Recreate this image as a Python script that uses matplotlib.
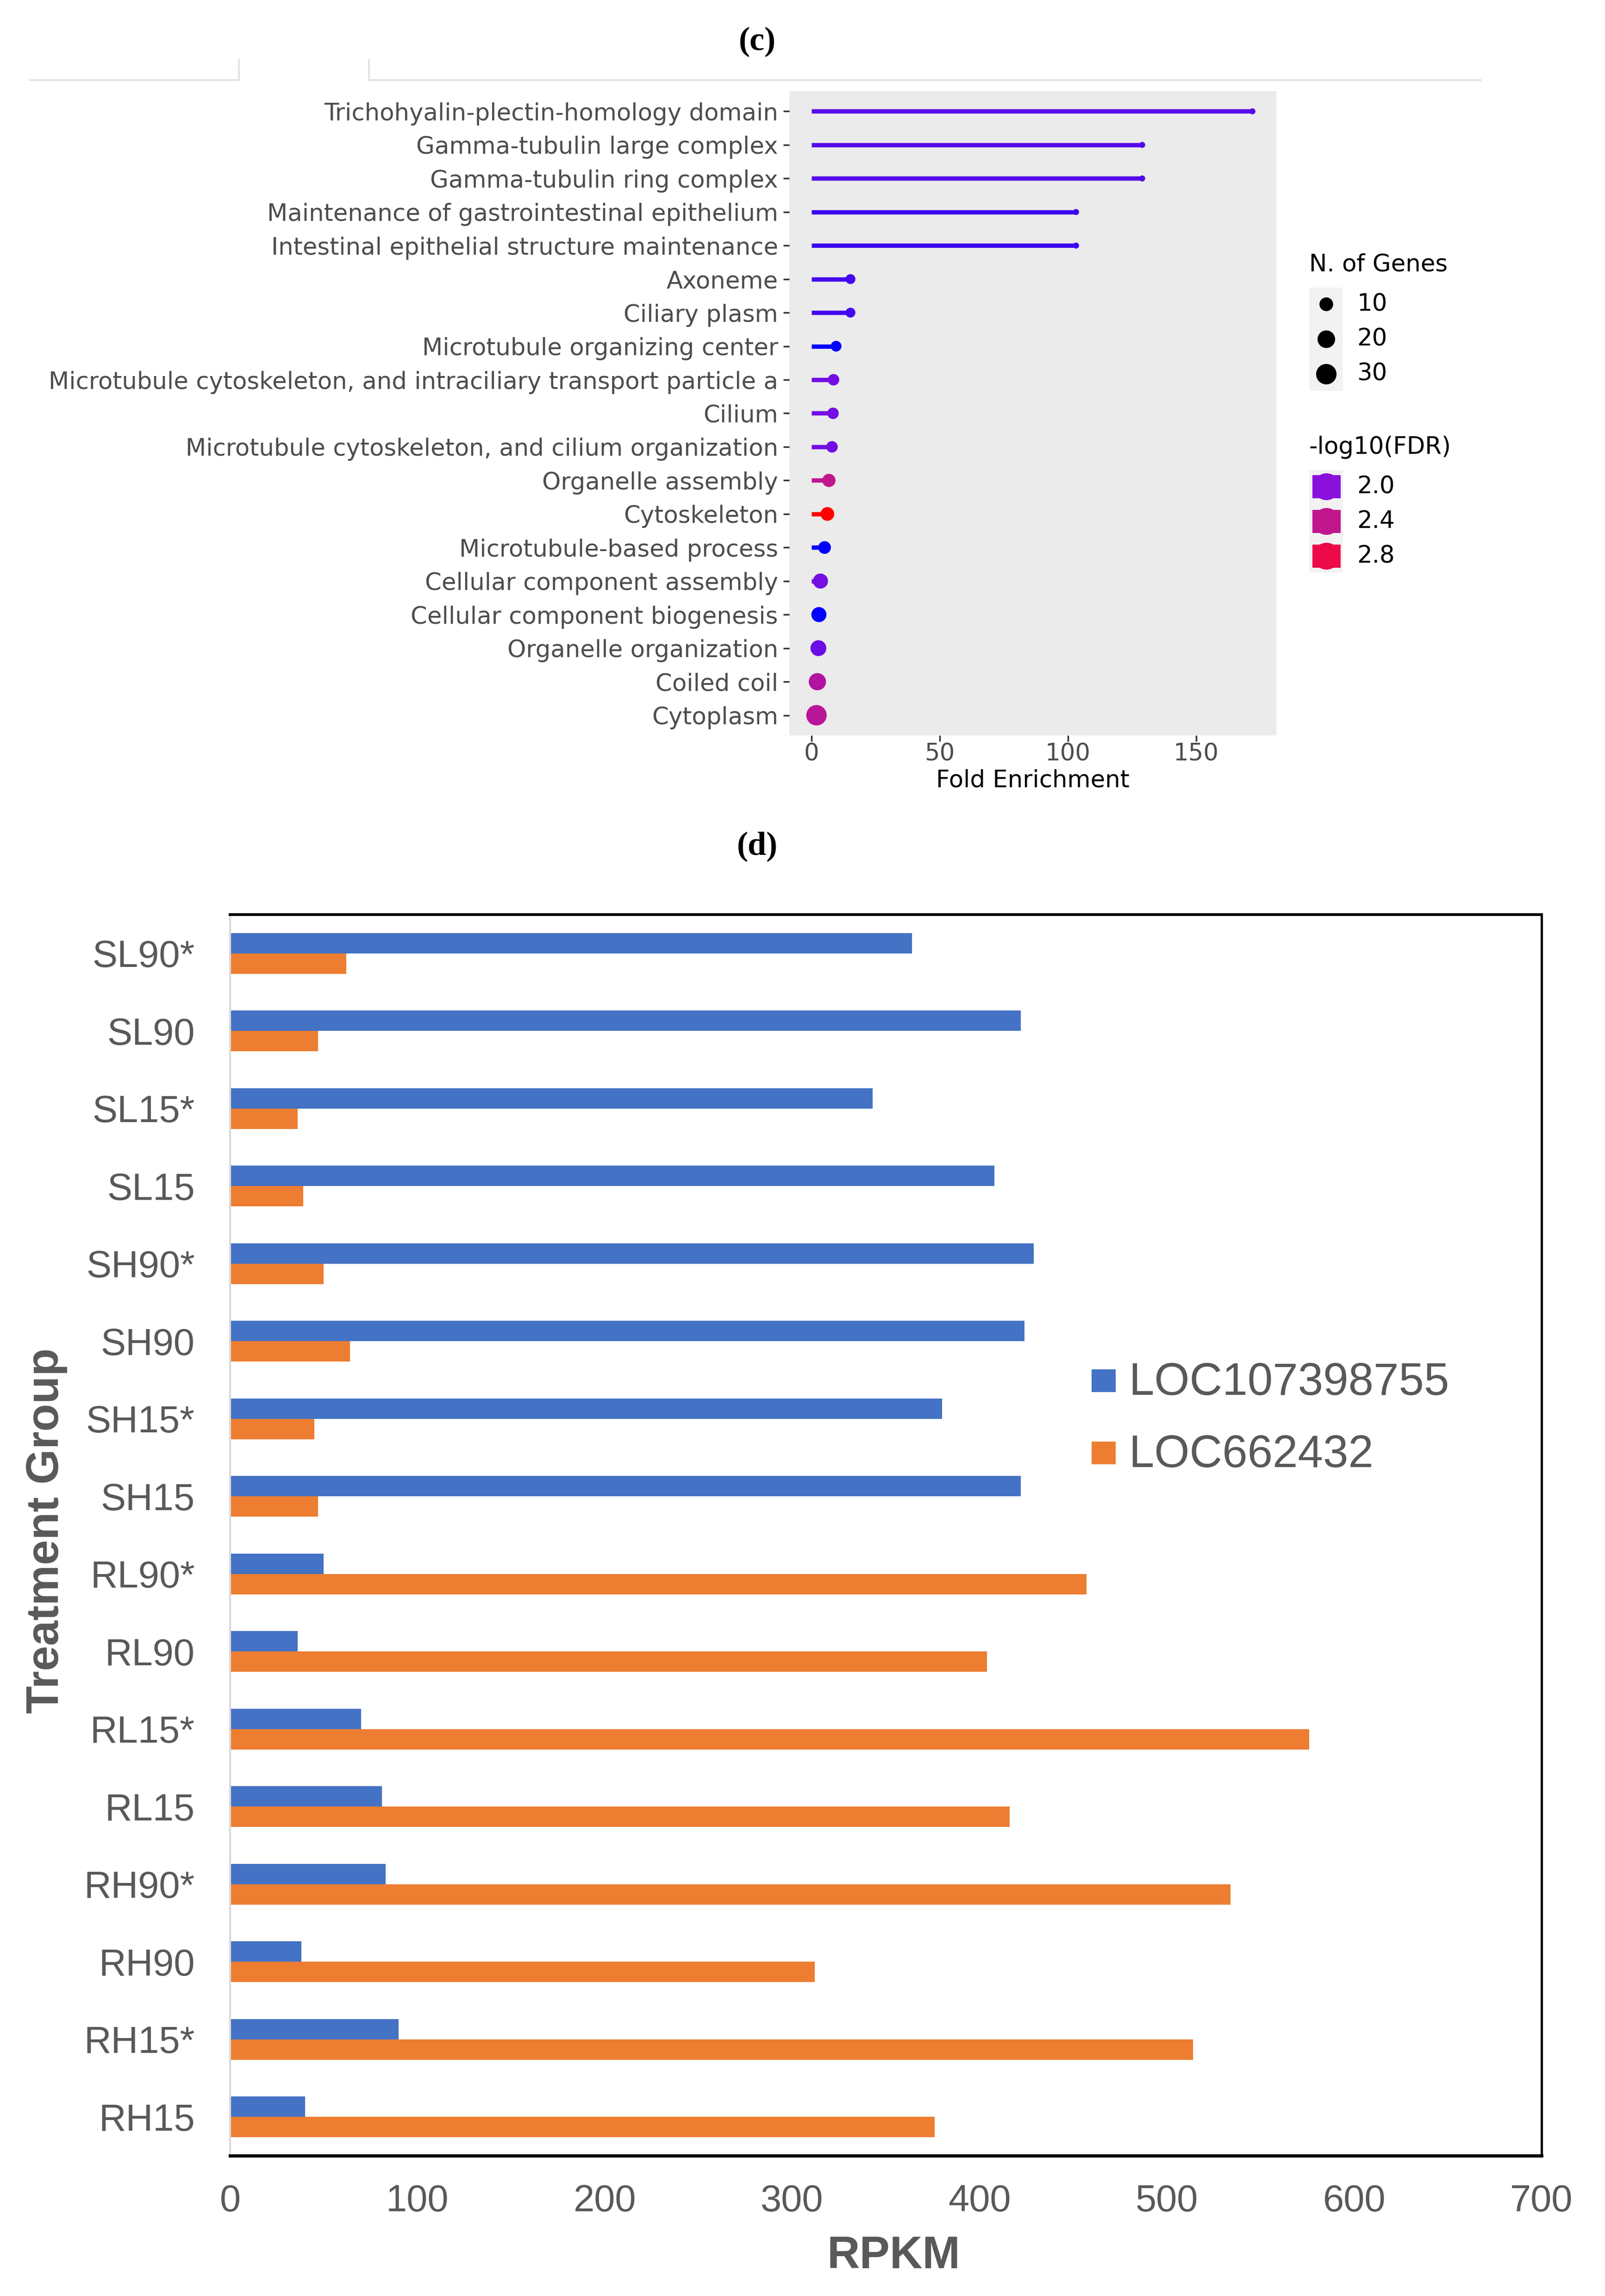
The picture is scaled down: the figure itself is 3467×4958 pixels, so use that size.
import numpy as np
import matplotlib
matplotlib.use("Agg")
import matplotlib.pyplot as plt
from matplotlib.colors import LinearSegmentedColormap, Normalize
from matplotlib.patches import Rectangle, Circle

W, H = 3467, 4958

# ---- panel (c): GO enrichment lollipop, top to bottom ----
terms = ["Trichohyalin-plectin-homology domain", "Gamma-tubulin large complex",
         "Gamma-tubulin ring complex", "Maintenance of gastrointestinal epithelium",
         "Intestinal epithelial structure maintenance", "Axoneme", "Ciliary plasm",
         "Microtubule organizing center",
         "Microtubule cytoskeleton, and intraciliary transport particle a",
         "Cilium", "Microtubule cytoskeleton, and cilium organization",
         "Organelle assembly", "Cytoskeleton", "Microtubule-based process",
         "Cellular component assembly", "Cellular component biogenesis",
         "Organelle organization", "Coiled coil", "Cytoplasm"]
fold = [172, 129, 129, 103.2, 103.2, 15.2, 15.2, 9.6, 8.6, 8.4, 8.0,
        6.8, 6.2, 5.1, 3.5, 2.9, 2.7, 2.3, 1.95]
n_genes = [2, 2, 2, 2, 2, 4, 4, 5, 6, 6, 6, 9, 10, 8, 13, 13, 15, 19, 30]
log_fdr = [1.87, 1.87, 1.87, 1.80, 1.80, 1.82, 1.82, 1.65, 1.94, 1.94, 1.94,
           2.40, 3.10, 1.65, 1.95, 1.65, 1.92, 2.30, 2.35]
size_breaks = [10, 20, 30]
fdr_breaks = [2.0, 2.4, 2.8]

# ---- panel (d): RPKM bars, top to bottom ----
groups = ["SL90*", "SL90", "SL15*", "SL15", "SH90*", "SH90", "SH15*", "SH15",
          "RL90*", "RL90", "RL15*", "RL15", "RH90*", "RH90", "RH15*", "RH15"]
loc1 = [364, 422, 343, 408, 429, 424, 380, 422, 50, 36, 70, 81, 83, 38, 90, 40]
loc2 = [62, 47, 36, 39, 50, 64, 45, 47, 457, 404, 576, 416, 534, 312, 514, 376]
series_names = ["LOC107398755", "LOC662432"]


def rect(l, t, r, b):
    return [l / W, 1 - b / H, (r - l) / W, (b - t) / H]


def radius(n):
    return 6.5 + 16.4 * np.sqrt((np.asarray(n) - 2) / 31.0)


cmap = LinearSegmentedColormap.from_list(
    "fdr", [(0, "#0000ff"), (0.24, "#8a10dc"), (0.517, "#c0168e"),
            (0.793, "#ee0a4a"), (1, "#ff0000")])
norm = Normalize(1.65, 3.1)

fig = plt.figure(figsize=(W / 100, H / 100), dpi=100)

# overlay in pixel coordinates for titles and legends (drawn on top)
ov = fig.add_axes([0, 0, 1, 1])
ov.set_xlim(0, W)
ov.set_ylim(H, 0)
ov.axis("off")
ov.set_zorder(10)

# light lines at the top (screenshot edge)
lc = "#e3e3e3"
ov.plot([63, 516, 516], [173, 173, 128], color=lc, lw=3, solid_capstyle="butt")
ov.plot([797, 797, 3200], [128, 173, 173], color=lc, lw=3, solid_capstyle="butt")

ov.text(1636, 90, "(c)", family="Liberation Serif", weight="bold", fontsize=52,
        ha="center", va="center")
ov.text(1636, 1828, "(d)", family="Liberation Serif", weight="bold", fontsize=52,
        ha="center", va="center")

# ---- panel (c) ----
axc = fig.add_axes(rect(1705, 197, 2757, 1588))
axc.set_facecolor("#ebebeb")
ypos = np.arange(len(terms))
cols = cmap(norm(np.array(log_fdr)))
axc.hlines(ypos, 0, fold, colors=cols, linewidth=6.8)
axc.scatter(fold, ypos, s=(2 * radius(n_genes) * 0.72) ** 2, c=cols,
            edgecolors="none", zorder=3)
axc.set_xlim(-8.65, 181.3)
axc.set_ylim(len(terms) - 0.4, -0.6)
axc.set_yticks(ypos)
axc.set_yticklabels(terms)
axc.set_xticks([0, 50, 100, 150])
for s in axc.spines.values():
    s.set_visible(False)
axc.tick_params(axis="both", length=9.5, width=2.5, color="#333333",
                labelcolor="#4d4d4d", labelsize=37)
axc.tick_params(axis="y", pad=8)
axc.tick_params(axis="x", pad=2)
for t in axc.get_xticklabels() + axc.get_yticklabels():
    t.set_family("DejaVu Sans")
ov.text(2231, 1700, "Fold Enrichment", fontsize=37, family="DejaVu Sans",
        ha="center", va="baseline")

# size legend
ov.text(2828, 571, "N. of Genes", fontsize=37, family="DejaVu Sans",
        ha="left", va="center")
ov.add_patch(Rectangle((2828, 621), 73, 223, color="#f2f2f2", lw=0))
for i, n in enumerate(size_breaks):
    y = 657 + 75.5 * i
    ov.add_patch(Circle((2865, y), radius(n), color="black", lw=0))
    ov.text(2931, y, str(n), fontsize=37, family="DejaVu Sans", ha="left",
            va="center")

# colour legend
ov.text(2828, 966, "-log10(FDR)", fontsize=37, family="DejaVu Sans",
        ha="left", va="center")
ov.add_patch(Rectangle((2828, 1015), 73, 221, color="#f2f2f2", lw=0))
for i, v in enumerate(fdr_breaks):
    y = 1051 + 75 * i
    c = cmap(norm(v))
    ov.add_patch(Rectangle((2835, y - 25), 61, 50, color=c, lw=0))
    ov.add_patch(Circle((2865.5, y), 29, color=c, lw=0))
    ov.text(2931, y, f"{v:.1f}", fontsize=37, family="DejaVu Sans", ha="left",
            va="center")

# ---- panel (d) ----
axd = fig.add_axes(rect(497, 1975, 3330, 4655))
pos = np.arange(len(groups))[::-1]
bh = 0.263
axd.barh(pos + bh / 2, loc1, height=bh, color="#4472c4", label=series_names[0])
axd.barh(pos - bh / 2, loc2, height=bh, color="#ed7d31", label=series_names[1])
axd.set_xlim(0, 700)
axd.set_ylim(-0.5, len(groups) - 0.5)
axd.set_yticks(pos)
axd.set_yticklabels(groups)
axd.set_xticks(np.arange(0, 701, 100))
axd.tick_params(axis="both", length=0, labelcolor="#595959", labelsize=58.5)
axd.tick_params(axis="y", pad=55)
axd.tick_params(axis="x", pad=44)
for t in axd.get_xticklabels() + axd.get_yticklabels():
    t.set_family("Liberation Sans")
axd.spines["left"].set_color("#d9d9d9")
axd.spines["left"].set_linewidth(3)
axd.spines["top"].set_linewidth(4.3)
axd.spines["bottom"].set_linewidth(5)
axd.spines["right"].set_linewidth(3.6)

ov.text(1930, 4898, "RPKM", fontsize=70.5, weight="bold", color="#595959",
        family="Liberation Sans", ha="center", va="baseline")
ov.text(101, 3305, "Treatment Group", fontsize=70.5, weight="bold",
        color="#595959", family="Liberation Sans", rotation=90,
        ha="center", va="center")

# bar legend
for i, (name, c) in enumerate(zip(series_names, ["#4472c4", "#ed7d31"])):
    base = 3012 + 156 * i
    ov.add_patch(Rectangle((2358, base - 55), 52, 49, color=c, lw=0))
    ov.text(2439, base, name, fontsize=70.5, color="#595959",
            family="Liberation Sans", ha="left", va="baseline")

fig.savefig("out.png", dpi=100)
